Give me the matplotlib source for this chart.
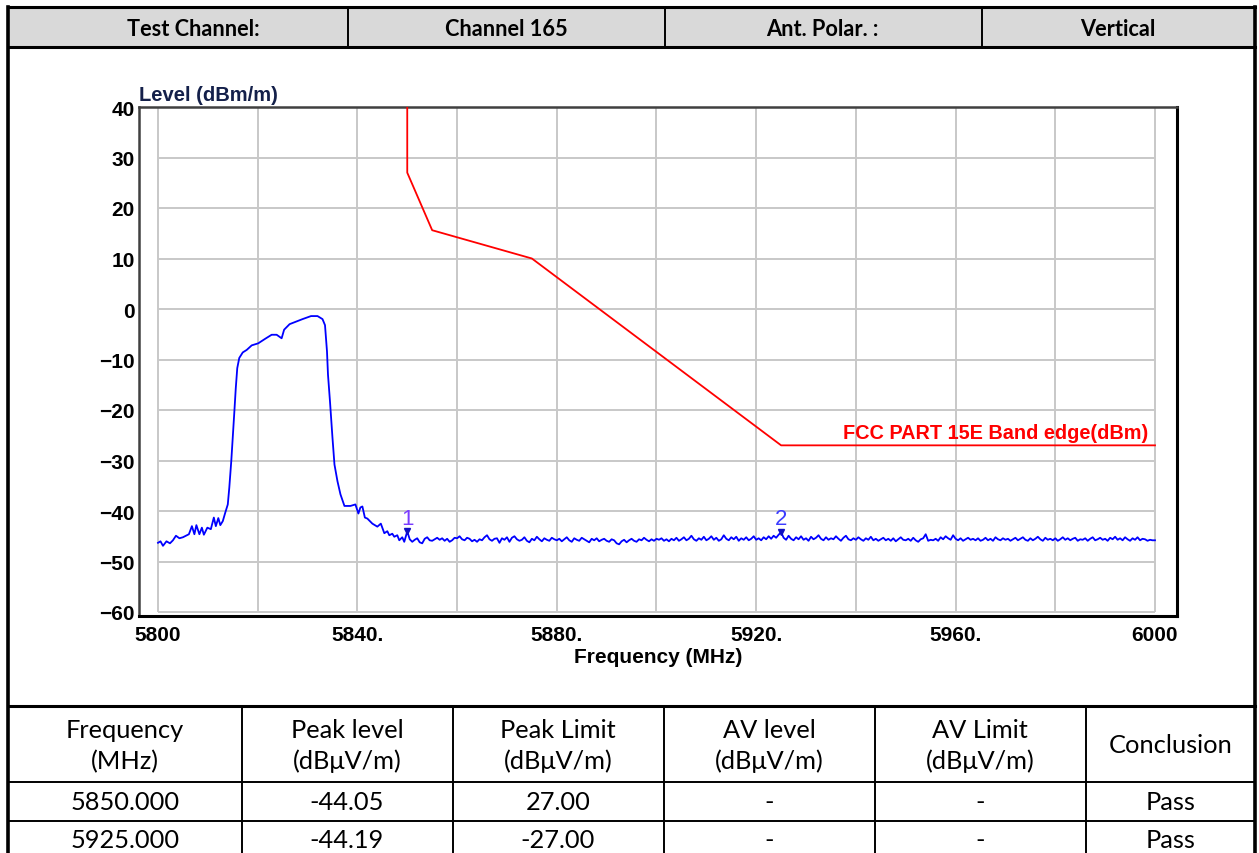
import numpy as np
import matplotlib
matplotlib.use("Agg")
import matplotlib.pyplot as plt

W, H = 1259, 854

# measured trace: noise, carrier skirt and roll-off
sig_freq = [5800.0, 5800.5, 5801.0, 5801.7, 5802.4, 5803.0, 5803.6, 5804.3, 5805.0, 5805.6,
            5806.2, 5806.8, 5807.3, 5807.7, 5808.3, 5808.8, 5809.2, 5809.9, 5810.6, 5811.2,
            5811.6, 5812.1, 5812.5, 5813.0, 5813.5, 5814.0, 5814.3, 5814.7, 5815.0, 5815.3,
            5815.6, 5815.9, 5816.3, 5817.0, 5817.8, 5818.8, 5820.1, 5821.5, 5822.8, 5823.8,
            5824.8, 5825.3, 5826.4, 5827.7, 5829.0, 5830.7, 5832.0, 5833.0, 5833.5, 5833.9,
            5834.1, 5834.5, 5835.0, 5835.4, 5836.0, 5836.6, 5837.4, 5838.6, 5839.6, 5840.2,
            5840.6, 5841.0, 5841.5, 5842.0, 5843.0, 5844.0, 5844.7, 5845.4, 5846.0, 5846.4,
            5847.0, 5847.4, 5848.0, 5848.4, 5849.0, 5849.4, 5850.0]
sig_level = [-46.3, -46.0, -46.9, -46.0, -46.4, -45.8, -44.9, -45.4, -45.2, -44.9,
             -44.6, -43.0, -44.6, -42.8, -44.6, -43.3, -44.7, -43.3, -43.6, -41.3,
             -43.0, -41.4, -42.8, -42.0, -40.3, -38.7, -35.4, -30.1, -25.5, -20.6,
             -15.7, -11.7, -9.7, -8.6, -8.1, -7.2, -6.8, -5.9, -5.1, -5.1,
             -5.8, -4.1, -3.0, -2.5, -2.0, -1.4, -1.4, -2.0, -3.2, -8.4,
             -13.0, -18.3, -25.5, -30.8, -34.1, -36.7, -39.0, -39.0, -38.7, -40.5,
             -39.3, -39.1, -41.3, -41.5, -42.5, -43.1, -42.5, -44.4, -44.0, -44.8,
             -44.5, -45.1, -44.8, -45.8, -45.2, -46.1, -44.05]

# noise floor, 0.5 MHz sweep steps from 5850.5 to 6000
floor_start, floor_step = 5850.5, 0.5
floor_level = [
    -45.6, -46.1, -45.7, -45.4, -46.2, -46.4, -45.5, -45.2, -45.8, -45.9,
    -45.6, -45.3, -45.7, -45.4, -45.9, -45.5, -46.1, -45.8, -45.3, -45.4,
    -45.0, -45.6, -45.8, -45.3, -45.5, -46.0, -45.7, -46.1, -45.6, -45.8,
    -45.2, -44.8, -45.6, -45.9, -45.5, -45.4, -46.3, -45.4, -45.7, -45.2,
    -46.1, -45.3, -45.0, -45.6, -45.9, -45.7, -45.2, -45.9, -46.2, -45.5,
    -45.8, -45.1, -45.6, -46.0, -45.4, -45.7, -45.9, -45.3, -45.6, -45.8,
    -45.5, -46.0, -45.6, -45.2, -45.8, -46.1, -45.4, -45.7, -45.9, -45.3,
    -45.6, -45.9, -46.2, -45.5, -45.8, -45.4, -46.0, -45.7, -45.5, -45.9,
    -46.1, -45.6, -45.8, -46.4, -46.6, -46.0, -45.7, -46.2, -45.8, -45.5,
    -45.9, -46.1, -45.6, -45.8, -45.3, -45.7, -46.0, -45.6, -45.9, -45.5,
    -45.7, -45.4, -45.9, -45.6, -46.0, -45.5, -45.8, -45.3, -45.9, -45.6,
    -45.2, -45.8, -45.5, -44.9, -45.6, -45.9, -45.4, -45.7, -45.1, -45.8,
    -45.5, -45.0, -45.7, -45.3, -45.9, -45.6, -44.8, -45.5, -45.8, -45.2,
    -45.6, -45.1, -45.9, -45.4, -45.7, -45.2, -45.8, -45.5, -45.0, -45.7,
    -45.4, -45.8, -45.2, -45.6, -45.0, -45.5, -44.9, -45.3, -44.7, -44.19,
    -45.3, -45.7, -44.9, -45.5, -45.8, -45.2, -45.6, -45.0, -45.7, -45.4,
    -45.9, -45.1, -45.6, -45.3, -44.8, -45.5, -45.8, -45.2, -45.7, -45.4,
    -45.6, -45.0, -45.5, -45.9, -45.3, -44.9, -45.6, -45.8, -45.4, -45.7,
    -45.2, -45.6, -45.9, -45.4, -45.7, -45.1, -45.8, -45.5, -45.9, -45.6,
    -45.3, -45.8, -45.5, -45.9, -45.4, -46.0, -45.6, -45.2, -45.7, -45.8,
    -45.5, -45.9, -45.3, -45.8, -46.1, -45.6, -45.4, -44.6, -45.9, -45.7,
    -45.8, -45.5, -45.9, -45.2, -45.6, -45.0, -45.4, -45.7, -44.8, -45.5,
    -45.8, -45.4, -45.9, -45.6, -45.3, -45.7, -45.5, -45.8, -45.4, -45.9,
    -45.7, -45.3, -45.8, -45.5, -45.9, -45.2, -45.6, -45.8, -45.4, -45.7,
    -45.5, -45.9, -45.6, -45.3, -45.8, -45.5, -45.2, -45.7, -45.9, -45.4,
    -45.8, -45.5, -45.1, -45.6, -45.9, -45.3, -45.7, -45.5, -45.8, -45.4,
    -45.9, -45.6, -45.2, -45.7, -45.4, -45.8, -45.5, -45.3, -45.9, -45.6,
    -45.7, -45.4, -45.9, -45.5, -45.2, -45.8, -45.6, -45.3, -45.7, -45.5,
    -45.9, -45.3, -45.6, -45.1, -45.7, -45.4, -45.8, -45.2, -45.6, -45.9,
    -45.4, -45.7, -45.2, -45.8, -45.5, -45.6, -45.9, -45.7, -45.8, -45.8,
]

# FCC 15.407 band edge mask (dBm)
limit_freq = [5850, 5850, 5855, 5875, 5925, 6000]
limit_level = [40, 27, 15.6, 10, -27, -27]

mark_name = ["1", "2"]
mark_freq = [5850.0, 5925.0]
mark_level = [-44.05, -44.19]
mark_limit = [27.00, -27.00]
mark_result = ["Pass", "Pass"]

x_ticks = [5800, 5840, 5880, 5920, 5960, 6000]
x_labels = ["5800", "5840.", "5880.", "5920.", "5960.", "6000"]
y_ticks = [40, 30, 20, 10, 0, -10, -20, -30, -40, -50, -60]

header = ["Test Channel:", "Channel 165", "Ant. Polar. :", "Vertical"]
col_head = ["Frequency\n(MHz)", "Peak level\n(dB\u03bcV/m)", "Peak Limit\n(dB\u03bcV/m)",
            "AV level\n(dB\u03bcV/m)", "AV Limit\n(dB\u03bcV/m)", "Conclusion"]

trace_f = np.concatenate([sig_freq, floor_start + floor_step * np.arange(len(floor_level))])
trace_l = np.concatenate([sig_level, floor_level])

fig = plt.figure(figsize=(W / 100, H / 100), dpi=100)
fig.patch.set_facecolor("white")

# page layer in pixel coordinates for the report tables
bg = fig.add_axes([0, 0, 1, 1])
bg.set_xlim(0, W)
bg.set_ylim(H, 0)
bg.axis("off")

tfont = ["Lato", "DejaVu Sans"]

bg.fill_between([8, 1255], 8, 48, color="#d9d9d9", lw=0)
for y in [8, 48, 707]:
    bg.plot([8, 1255], [y, y], color="black", lw=2.2)
for x in [348, 665, 982]:
    bg.plot([x, x], [8, 48], color="black", lw=1.4)
for y in [783, 822]:
    bg.plot([8, 1255], [y, y], color="black", lw=1.4)
for x in [242, 453, 664, 875, 1086]:
    bg.plot([x, x], [707, H], color="black", lw=1.4)
bg.plot([8, 8], [8, H], color="black", lw=2.6)
bg.plot([1255, 1255], [8, H], color="black", lw=2.6)

for txt, cx in zip(header, [193, 506, 822, 1118]):
    bg.text(cx, 30, txt, ha="center", va="center", fontsize=15.7, fontweight="bold",
            family=tfont)

col_x = [125, 347, 558, 769, 980, 1171]
for txt, cx in zip(col_head, col_x):
    bg.text(cx, 746, txt, ha="center", va="center", fontsize=18.3, family=tfont,
            linespacing=1.4)

for i, ry in enumerate([803, 841]):
    cells = [f"{mark_freq[i]:.3f}", f"{mark_level[i]:.2f}", f"{mark_limit[i]:.2f}",
             "-", "-", mark_result[i]]
    for txt, cx in zip(cells, col_x):
        bg.text(cx, ry, txt, ha="center", va="center", fontsize=18.3, family=tfont)

# spectrum plot
ppm = (1155 - 158) / 200.0
ppd = (613 - 108) / 100.0
ax = fig.add_axes([139 / W, (H - 617) / H, (1177 - 139) / W, (617 - 108) / H])
ax.set_xlim(5800 - 19 / ppm, 6000 + 22 / ppm)
ax.set_ylim(-60 - 4 / ppd, 40)
ax.set_facecolor("white")

ax.vlines(np.arange(5800, 6001, 20), -60, 40, color="#c8c8c8", lw=1.4, zorder=1)
ax.hlines(np.arange(-60, 41, 10), 5800, 6000, color="#c8c8c8", lw=1.4, zorder=1)

ax.plot(limit_freq, limit_level, color="#ff0000", lw=1.3, zorder=3)
ax.plot(trace_f, trace_l, color="#0000ff", lw=1.3, zorder=4)

ax.text(5998.6, -25.6, "FCC PART 15E Band edge(dBm)", color="#ff0000", fontsize=14.3,
        fontweight="bold", family="Liberation Sans", ha="right", va="baseline", zorder=5)

for name, f, lv, c in zip(mark_name, mark_freq, mark_level, ["#7a3cff", "#3c3cff"]):
    ax.plot(f, lv, marker="v", ms=5, color="#1010c0", zorder=6)
    ax.annotate(name, (f, lv), xytext=(0, 9.5), textcoords="offset points",
                ha="center", va="center", color=c, fontsize=16, family="Liberation Sans",
                zorder=6)

ax.set_xticks(x_ticks)
ax.set_xticklabels(x_labels)
ax.set_yticks(y_ticks)
ax.tick_params(length=0, labelsize=15)
ax.tick_params(axis="y", pad=3)
ax.tick_params(axis="x", pad=6.5)
for lab in ax.get_xticklabels() + ax.get_yticklabels():
    lab.set_fontweight("bold")
    lab.set_family("Liberation Sans")

ax.set_xlabel("Frequency (MHz)", fontsize=15, fontweight="bold",
              family="Liberation Sans", labelpad=2)
bg.text(139, 101, "Level (dBm/m)", fontsize=14.5, fontweight="bold",
        family="Liberation Sans", color="#14204a", ha="left", va="baseline")

for side in ["left", "top"]:
    ax.spines[side].set_color("#404040")
    ax.spines[side].set_linewidth(1.8)
for side in ["right", "bottom"]:
    ax.spines[side].set_color("black")
    ax.spines[side].set_linewidth(2.2)

fig.savefig("out.png", dpi=100)
